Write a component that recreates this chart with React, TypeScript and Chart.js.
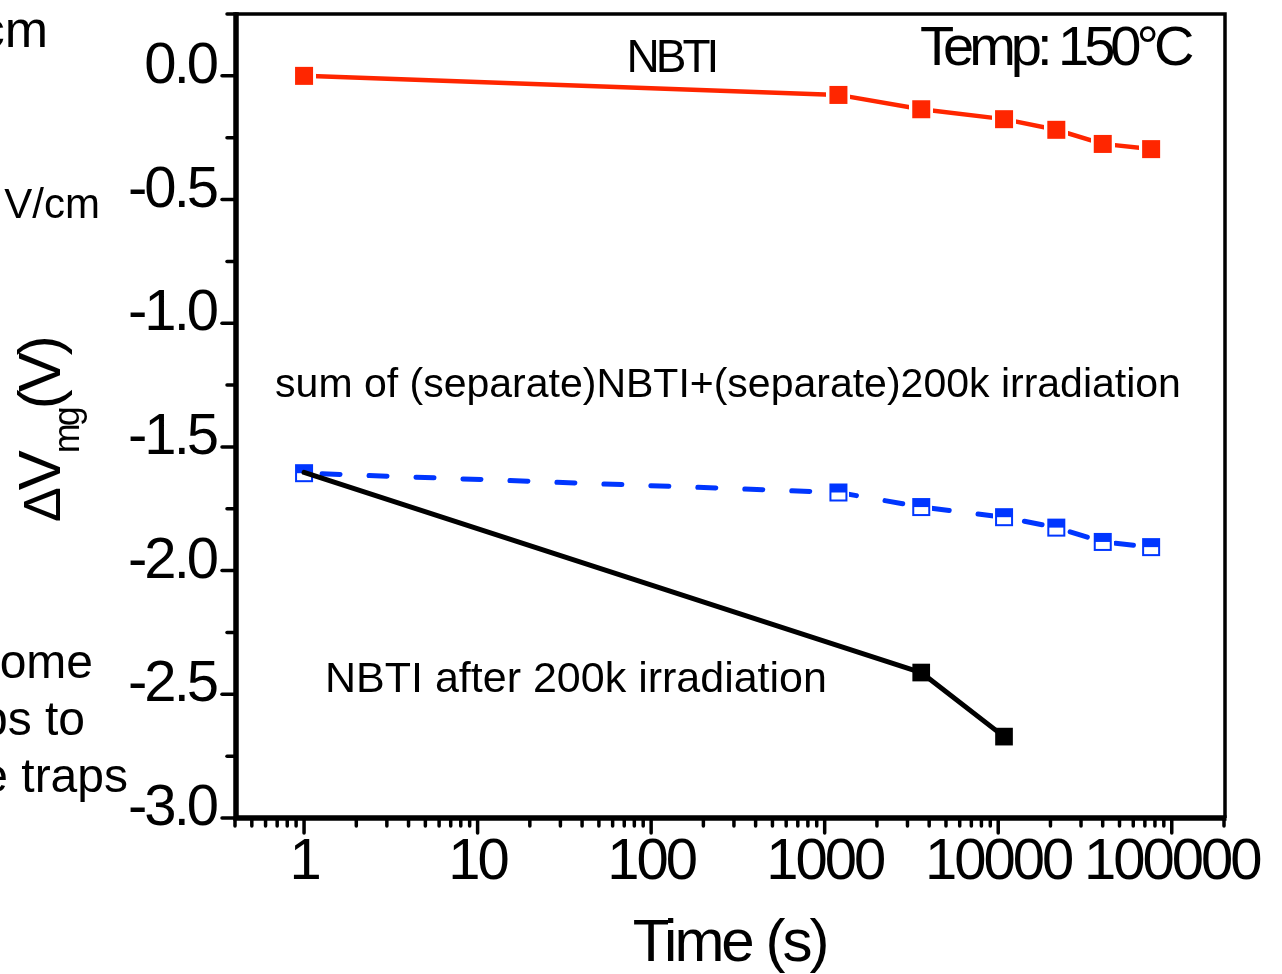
import React, { useEffect, useRef } from 'react';
import { Chart, registerables } from 'chart.js';

Chart.register(...registerables);

const W = 1282;
const H = 974;
const FONT = '"Liberation Sans", Arial, Helvetica, sans-serif';
const RED = '#ff2600';
const BLUE = '#0036ff';

// ---- data ----
const nbtiTime = [1, 1200, 3600, 10800, 21600, 40000, 76000];
const nbtiShift = [0.0, -0.077, -0.135, -0.175, -0.218, -0.275, -0.296];

const sumTime = [1, 1200, 3600, 10800, 21600, 40000, 76000];
const sumShift = [-1.606, -1.684, -1.743, -1.784, -1.826, -1.884, -1.905];

const irrTime = [1, 3600, 10800];
const irrShift = [-1.603, -2.412, -2.671];

const xTickValues = [1, 10, 100, 1000, 10000, 100000];
const yTickValues = [0.0, -0.5, -1.0, -1.5, -2.0, -2.5, -3.0];

const xRange = [0.4, 200000];
const yRange = [-3.0, 0.25];

const pts = (xs: number[], ys: number[]) => xs.map((x, i) => ({ x, y: ys[i] }));

function makeRedMarker() {
  const c = document.createElement('canvas');
  c.width = 24;
  c.height = 24;
  const g = c.getContext('2d')!;
  g.fillStyle = '#ffffff';
  g.fillRect(0, 0, 24, 24);
  g.fillStyle = RED;
  g.fillRect(3, 3, 18, 18);
  return c;
}

function makeBlueMarker() {
  const c = document.createElement('canvas');
  c.width = 22;
  c.height = 22;
  const g = c.getContext('2d')!;
  g.fillStyle = '#ffffff';
  g.fillRect(0, 0, 22, 22);
  g.fillStyle = BLUE;
  g.fillRect(2, 2, 18, 18);
  g.fillStyle = '#ffffff';
  g.fillRect(4, 11, 14, 7);
  return c;
}

function text(
  ctx: CanvasRenderingContext2D,
  s: string,
  x: number,
  y: number,
  size: number,
  align: CanvasTextAlign,
  spacing: number
) {
  ctx.save();
  ctx.font = `${size}px ${FONT}`;
  (ctx as any).letterSpacing = `${spacing}px`;
  ctx.fillStyle = '#000';
  ctx.textAlign = align;
  ctx.textBaseline = 'alphabetic';
  ctx.fillText(s, x, y);
  ctx.restore();
}

const zeroPad = (s: any) => {
  s.paddingTop = 0;
  s.paddingBottom = 0;
  s.paddingLeft = 0;
  s.paddingRight = 0;
};

const decorPlugin = {
  id: 'decor',
  beforeDraw(chart: any) {
    const ctx = chart.ctx as CanvasRenderingContext2D;
    ctx.save();
    ctx.fillStyle = '#ffffff';
    ctx.fillRect(0, 0, chart.width, chart.height);
    ctx.restore();
    (ctx as any).letterSpacing = '-3px';
  },
  afterDraw(chart: any) {
    const ctx = chart.ctx as CanvasRenderingContext2D;
    const { left, right, top, bottom } = chart.chartArea;
    const xs = chart.scales.x;
    const ys = chart.scales.y;
    ctx.save();
    ctx.strokeStyle = '#000';
    ctx.lineJoin = 'miter';
    ctx.lineCap = 'butt';
    // top + right (thinner)
    ctx.lineWidth = 3.5;
    ctx.beginPath();
    ctx.moveTo(left, top);
    ctx.lineTo(right + 1, top);
    ctx.lineTo(right + 1, bottom);
    ctx.stroke();
    // left + bottom (thicker)
    ctx.lineWidth = 5.5;
    ctx.beginPath();
    ctx.moveTo(left + 1, top - 1.75);
    ctx.lineTo(left + 1, bottom);
    ctx.lineTo(right + 2.5, bottom);
    ctx.stroke();

    // ticks
    ctx.lineCap = 'round';
    ctx.lineWidth = 3.5;
    const step = 0.25;
    for (let v = Math.ceil(yRange[0] / step) * step; v <= yRange[1] + 1e-9; v += step) {
      const p = ys.getPixelForValue(v);
      const major = Math.abs(v / 0.5 - Math.round(v / 0.5)) < 1e-6;
      ctx.beginPath();
      ctx.moveTo(left + 1, p);
      ctx.lineTo(left - (major ? 13 : 8), p);
      ctx.stroke();
    }
    const e0 = Math.floor(Math.log10(xRange[0]));
    const e1 = Math.ceil(Math.log10(xRange[1]));
    for (let e = e0; e <= e1; e++) {
      for (let m = 1; m <= 9; m++) {
        const v = m * Math.pow(10, e);
        if (v < xRange[0] * 0.999 || v > xRange[1] * 1.001) continue;
        const p = xs.getPixelForValue(v);
        ctx.beginPath();
        ctx.moveTo(p, bottom);
        ctx.lineTo(p, bottom + (m === 1 ? 15 : 8));
        ctx.stroke();
      }
    }
    ctx.restore();

    // y axis title with subscript
    ctx.save();
    ctx.translate(60, 522);
    ctx.rotate(-Math.PI / 2);
    ctx.fillStyle = '#000';
    ctx.textAlign = 'left';
    ctx.textBaseline = 'alphabetic';
    (ctx as any).letterSpacing = '-3px';
    let tx = 0;
    ctx.font = `52px ${FONT}`;
    ctx.fillText('Δ', tx, 0);
    tx += ctx.measureText('Δ').width;
    ctx.font = `60px ${FONT}`;
    ctx.fillText('V', tx, 0);
    tx += ctx.measureText('V').width;
    ctx.font = `36px ${FONT}`;
    ctx.fillText('mg', tx, 19);
    tx += ctx.measureText('mg').width;
    ctx.font = `60px ${FONT}`;
    ctx.fillText('(V)', tx, 0);
    ctx.restore();

    // annotations
    text(ctx, 'NBTI', 671, 72, 46, 'center', -4);
    text(ctx, 'Temp: 150°C', 920, 65, 56, 'left', -5);
    text(ctx, 'sum of (separate)NBTI+(separate)200k irradiation', 728, 397, 41, 'center', 0);
    text(ctx, 'NBTI after 200k irradiation', 576, 692, 43, 'center', 0);

    // fragments of neighbouring text (cut off at the left edge)
    text(ctx, 'cm', 48, 47, 52, 'right', 0);
    text(ctx, 'V/cm', 100, 218, 42, 'right', 0);
    text(ctx, 'ome', 93, 678, 48, 'right', 0);
    text(ctx, 'ps to', 85, 735, 48, 'right', 0);
    text(ctx, 'e traps', 128, 792, 48, 'right', 0);
  },
};

export default function App() {
  const ref = useRef<HTMLCanvasElement>(null);

  useEffect(() => {
    const canvas = ref.current;
    if (!canvas) return;
    const redMarker = makeRedMarker();
    const blueMarker = makeBlueMarker();

    const chart = new Chart(canvas, {
      type: 'line',
      data: {
        datasets: [
          {
            label: 'NBTI after 200k irradiation',
            data: pts(irrTime, irrShift),
            borderColor: '#000',
            backgroundColor: '#000',
            borderWidth: 5,
            borderCapStyle: 'round',
            borderJoinStyle: 'round',
            pointStyle: 'rect',
            pointRadius: [0, 12.5, 12.5],
            pointBorderWidth: 0,
            pointBackgroundColor: '#000',
            tension: 0,
            fill: false,
          },
          {
            label: 'sum of (separate)NBTI+(separate)200k irradiation',
            data: pts(sumTime, sumShift),
            borderColor: BLUE,
            backgroundColor: BLUE,
            borderWidth: 5,
            borderDash: [18, 29],
            borderDashOffset: 29,
            borderCapStyle: 'round',
            borderJoinStyle: 'round',
            pointStyle: blueMarker,
            pointRadius: 9,
            tension: 0,
            fill: false,
          },
          {
            label: 'NBTI',
            data: pts(nbtiTime, nbtiShift),
            borderColor: RED,
            backgroundColor: RED,
            borderWidth: 4.5,
            borderCapStyle: 'round',
            borderJoinStyle: 'round',
            pointStyle: redMarker,
            pointRadius: 9,
            tension: 0,
            fill: false,
          },
        ] as any,
      },
      options: {
        animation: false,
        responsive: false,
        devicePixelRatio: 1,
        events: [],
        layout: { padding: { top: 14, right: 58, left: 0, bottom: 0 } },
        plugins: {
          legend: { display: false },
          tooltip: { enabled: false },
        },
        scales: {
          x: {
            type: 'logarithmic',
            min: xRange[0],
            max: xRange[1],
            afterBuildTicks: (s: any) => {
              s.ticks = xTickValues.map((v) => ({ value: v }));
            },
            afterFit: (s: any) => {
              s.height = 156;
              zeroPad(s);
            },
            grid: { display: false, drawTicks: false },
            border: { display: false },
            ticks: {
              autoSkip: false,
              maxRotation: 0,
              minRotation: 0,
              padding: 16,
              color: '#000',
              font: { family: FONT, size: 58, lineHeight: 1 },
              callback: (v: any) => String(v),
            },
            title: {
              display: true,
              text: 'Time (s)',
              color: '#000',
              font: { family: FONT, size: 60, lineHeight: 1 },
              padding: { top: 0, bottom: 0 },
            },
          },
          y: {
            type: 'linear',
            min: yRange[0],
            max: yRange[1],
            afterBuildTicks: (s: any) => {
              s.ticks = yTickValues.map((v) => ({ value: v }));
            },
            afterFit: (s: any) => {
              s.width = 235;
              zeroPad(s);
            },
            grid: { display: false, drawTicks: false },
            border: { display: false },
            ticks: {
              padding: 19,
              labelOffset: -9,
              color: '#000',
              font: { family: FONT, size: 58, lineHeight: 1 },
              callback: (v: any) => Number(v).toFixed(1),
            },
          },
        },
      } as any,
      plugins: [decorPlugin],
    });

    return () => chart.destroy();
  }, []);

  return (
    <div
      style={{
        position: 'fixed',
        left: 0,
        top: 0,
        width: W,
        height: H,
        overflow: 'hidden',
        background: '#fff',
      }}
    >
      <canvas ref={ref} width={W} height={H} style={{ display: 'block', width: W, height: H }} />
    </div>
  );
}
